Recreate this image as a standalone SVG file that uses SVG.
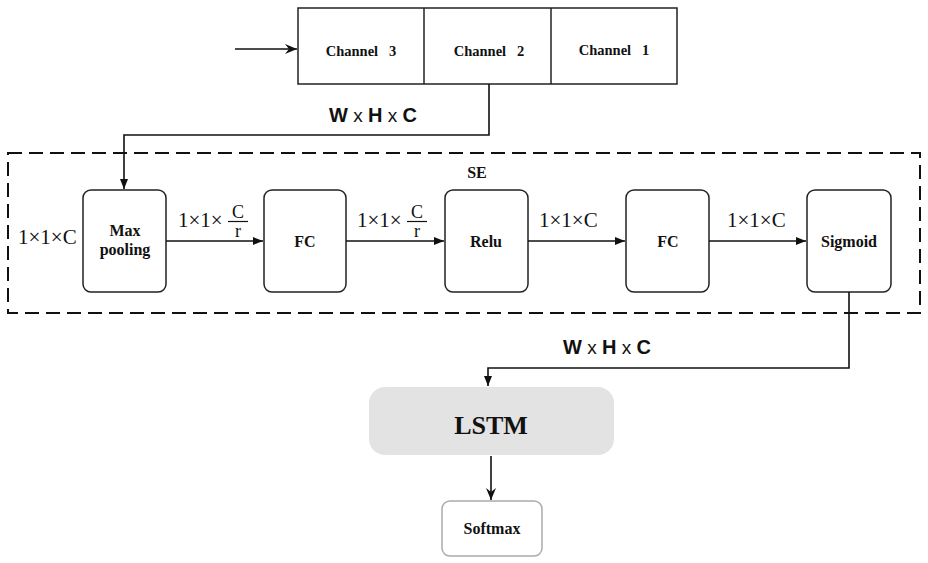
<svg xmlns="http://www.w3.org/2000/svg" width="928" height="563" viewBox="0 0 928 563">
<defs>
<style>
.box{fill:#fff;stroke:#222;stroke-width:1.5}
.lbl{font-family:"Liberation Serif","Times New Roman",serif;font-weight:bold;font-size:16px;fill:#111;text-anchor:middle}
.ch{font-size:14.5px}
.dim{font-family:"Liberation Serif","Times New Roman",serif;font-size:21px;fill:#111}
.frac{font-family:"Liberation Serif","Times New Roman",serif;font-size:18px;fill:#111;text-anchor:middle}
.sans{font-family:"Liberation Sans",Arial,sans-serif;fill:#111}
.ln{fill:none;stroke:#111;stroke-width:1.6}
</style>
<marker id="ah" viewBox="0 0 10 8" refX="10" refY="4" markerWidth="10" markerHeight="8" markerUnits="userSpaceOnUse" orient="auto">
<path d="M0,0 L10,4 L0,8 z" fill="#111"/>
</marker>
<marker id="ah2" viewBox="0 0 12 10" refX="12" refY="5" markerWidth="12" markerHeight="10" markerUnits="userSpaceOnUse" orient="auto">
<path d="M0,0 L12,5 L0,10 L4,5 z" fill="#111"/>
</marker>
</defs>
<rect width="928" height="563" fill="#fff"/>

<g id="se-frame">
<rect x="8" y="153" width="912" height="160" fill="none" stroke="#111" stroke-width="2" stroke-dasharray="14,7"/>
<text class="lbl" x="477" y="178">SE</text>
</g>

<g id="channels">
<rect class="box" x="298" y="8" width="379" height="76"/>
<line x1="424" y1="8" x2="424" y2="84" stroke="#222" stroke-width="1.5"/>
<line x1="551" y1="8" x2="551" y2="84" stroke="#222" stroke-width="1.5"/>
<text class="lbl ch" x="361" y="56" xml:space="preserve">Channel   3</text>
<text class="lbl ch" x="489" y="56" xml:space="preserve">Channel   2</text>
<text class="lbl ch" x="614" y="55" xml:space="preserve">Channel   1</text>
</g>

<g id="maxpool">
<rect class="box" x="83" y="190" width="83" height="102" rx="8"/>
<text class="lbl" x="125" y="236">Max</text>
<text class="lbl" x="125" y="255">pooling</text>
</g>
<g id="fc1">
<rect class="box" x="264" y="190" width="82" height="102" rx="8"/>
<text class="lbl" x="305" y="247">FC</text>
</g>
<g id="relu">
<rect class="box" x="445" y="190" width="83" height="102" rx="8"/>
<text class="lbl" x="486" y="247">Relu</text>
</g>
<g id="fc2">
<rect class="box" x="626" y="190" width="83" height="102" rx="8"/>
<text class="lbl" x="668" y="247">FC</text>
</g>
<g id="sigmoid">
<rect class="box" x="807" y="190" width="84" height="102" rx="8"/>
<text class="lbl" x="849" y="247">Sigmoid</text>
</g>
<g id="lstm">
<rect x="369" y="387" width="245" height="68" rx="16" fill="#e3e3e3"/>
<text class="lbl" x="491" y="434" style="font-size:26px">LSTM</text>
</g>
<g id="softmax">
<rect x="442" y="501" width="100" height="55" rx="8" fill="#fff" stroke="#aaa" stroke-width="1.5"/>
<text class="lbl" x="492" y="534">Softmax</text>
</g>

<g id="connectors">
<line class="ln" x1="235" y1="49" x2="297" y2="49" marker-end="url(#ah2)" stroke-width="2"/>
<polyline class="ln" points="489,84 489,135 124,135 124,189" marker-end="url(#ah)"/>
<line class="ln" x1="166" y1="241" x2="263" y2="241" marker-end="url(#ah)"/>
<line class="ln" x1="346" y1="241" x2="444" y2="241" marker-end="url(#ah)"/>
<line class="ln" x1="528" y1="241" x2="625" y2="241" marker-end="url(#ah)"/>
<line class="ln" x1="709" y1="241" x2="806" y2="241" marker-end="url(#ah)"/>
<polyline class="ln" points="849,292 849,368 488,368 488,386" marker-end="url(#ah)"/>
<line class="ln" x1="491" y1="456" x2="491" y2="500" marker-end="url(#ah2)" stroke-width="2"/>
</g>

<g id="labels">
<text class="sans" x="373" y="122" text-anchor="middle"><tspan font-weight="bold" font-size="20">W</tspan><tspan font-size="19"> x </tspan><tspan font-weight="bold" font-size="20">H</tspan><tspan font-size="19"> x </tspan><tspan font-weight="bold" font-size="20">C</tspan></text>
<text class="sans" x="607" y="354" text-anchor="middle"><tspan font-weight="bold" font-size="20">W</tspan><tspan font-size="19"> x </tspan><tspan font-weight="bold" font-size="20">H</tspan><tspan font-size="19"> x </tspan><tspan font-weight="bold" font-size="20">C</tspan></text>
<text class="dim" x="18" y="244">1×1×C</text>
<text class="dim" x="178" y="227">1×1×</text>
<text class="frac" x="238" y="218">C</text>
<line x1="228" y1="221.5" x2="248" y2="221.5" stroke="#111" stroke-width="1.2"/>
<text class="frac" x="238" y="237">r</text>
<text class="dim" x="357" y="227">1×1×</text>
<text class="frac" x="417" y="218">C</text>
<line x1="407" y1="221.5" x2="427" y2="221.5" stroke="#111" stroke-width="1.2"/>
<text class="frac" x="417" y="237">r</text>
<text class="dim" x="539" y="227">1×1×C</text>
<text class="dim" x="727" y="227">1×1×C</text>
</g>
</svg>
